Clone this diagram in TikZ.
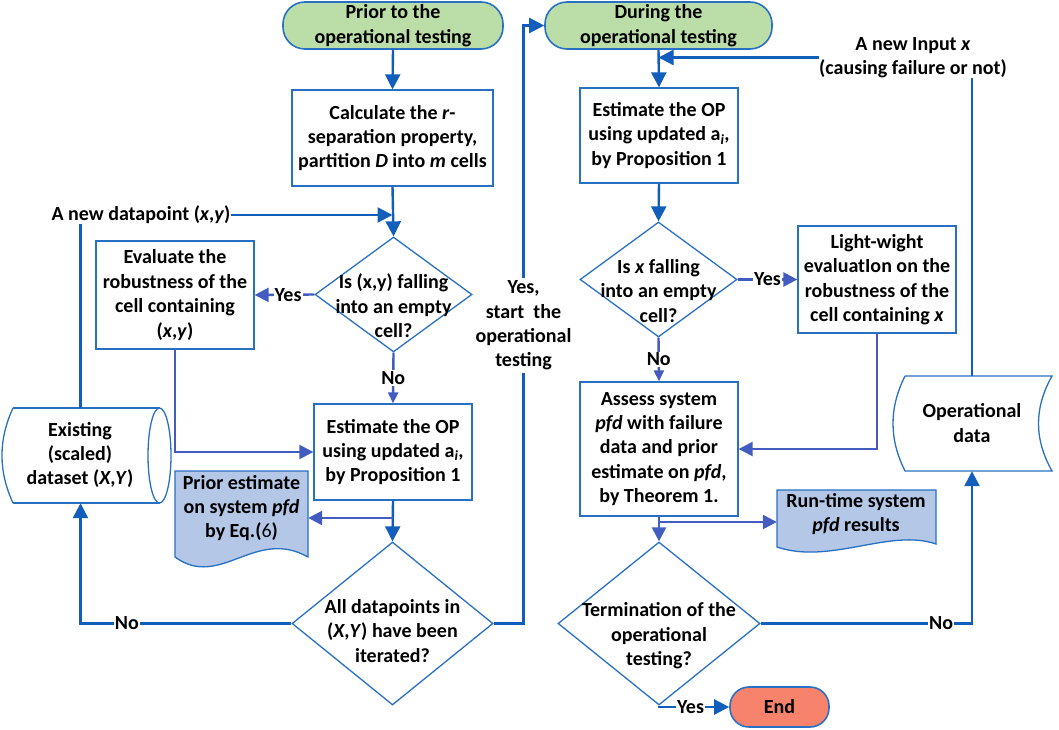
\documentclass[tikz,border=0pt]{standalone}
\usepackage{fontspec}
\setmainfont{Carlito}
\usetikzlibrary{arrows.meta,shapes.geometric}
\definecolor{cA}{RGB}{18,94,189}
\definecolor{cB}{RGB}{66,92,192}
\definecolor{cS}{RGB}{40,112,196}
\definecolor{cGreen}{RGB}{187,221,167}
\definecolor{cDoc}{RGB}{180,199,231}
\definecolor{cEnd}{RGB}{248,131,108}
\begin{document}
\begin{tikzpicture}[x=1pt,y=-1pt,
  txt/.style={font=\fontsize{20}{24.4}\selectfont\bfseries, align=center, inner sep=0pt, text=black},
  pbox/.style={txt, draw=cS, line width=1.3pt, fill=white},
  term/.style={txt, draw=cS, line width=1.6pt},
  dia/.style={diamond, draw=cS, line width=1.3pt, inner sep=0pt},
  shp/.style={draw=cS, line width=1.3pt},
  flowA/.style={draw=cA, line width=2.4pt, -{Triangle[length=15pt,width=15pt]}},
  flowB/.style={draw=cB, line width=2.4pt, -{Triangle[length=14pt,width=14pt]}},
  flowS/.style={draw=cB, line width=2.4pt, -{Triangle[length=11pt,width=10pt]}},
  lineA/.style={draw=cA, line width=2.4pt},
  lbl/.style={txt, fill=white, inner sep=1pt},
]
\useasboundingbox (0,0) rectangle (1059,730);

% ---------- left column ----------
\node[term, fill=cGreen, rounded corners=22pt, minimum width=220pt, minimum height=47pt] (s1) at (393,25.5) {Prior to the\\operational testing};
\node[pbox, minimum width=201pt, minimum height=96pt] (b1) at (392.5,138) {Calculate the \textit{r}-\\separation property,\\partition \textit{D} into \textit{m} cells};
\node[txt] (newdp) at (141,215) {A new datapoint (\textit{x},\textit{y})};
\node[dia, minimum width=157pt, minimum height=115pt] (d1) at (393.5,294.5) {};
\node[txt] (d1t) at (393.5,306) {Is (x,y) falling\\into an empty\\cell?};
\node[pbox, minimum width=158pt, minimum height=108pt] (b2) at (175,295) {Evaluate the\\robustness of the\\cell containing\\(\textit{x},\textit{y})};
\node[pbox, minimum width=158pt, minimum height=96pt] (b3) at (393,452) {Estimate the OP\\using updated a\textsubscript{\textit{i}},\\by Proposition 1};
\node[dia, minimum width=201pt, minimum height=163pt] (d2) at (392.5,623.5) {};
\node[txt] (d2t) at (392.5,631) {All datapoints in\\(\textit{X},\textit{Y}) have been\\iterated?};

% document: prior estimate
\node[minimum width=133pt, minimum height=86pt, inner sep=0pt] (pd) at (241.5,514) {};
\fill[cDoc] (175,471) -- (308,471) -- (308,557) .. controls (255,527) and (220,590) .. (175,557) -- cycle;
\draw[shp] (175,471) -- (308,471) -- (308,557) .. controls (255,527) and (220,590) .. (175,557) -- cycle;
\node[txt] (pdt) at (241.5,508) {Prior estimate\\on system \textit{pfd}\\by Eq.({\mdseries 6})};

% stored data: existing dataset
\node[minimum width=135pt, minimum height=95pt, inner sep=0pt] (ds) at (80.5,455.5) {};
\draw[shp] (13,408) -- (159.5,408);
\draw[shp] (13,503) -- (159.5,503);
\draw[shp] (13,408) .. controls (-1.7,440) and (-1.7,471) .. (13,503);
\draw[shp] (159.5,455.5) ellipse (11.5 and 47.5);
\node[txt] (dst) at (80,455) {Existing\\(scaled)\\dataset (\textit{X},\textit{Y})};

% ---------- right column ----------
\node[term, fill=cGreen, rounded corners=22pt, minimum width=227pt, minimum height=47pt] (s2) at (658.5,25.5) {During the\\operational testing};
\node[txt] (newin) at (913,57.5) {A new Input \textit{x}\\(causing failure or not)};
\node[pbox, minimum width=158pt, minimum height=95pt] (b4) at (659,135.5) {Estimate the OP\\using updated a\textsubscript{\textit{i}},\\by Proposition 1};
\node[dia, minimum width=157pt, minimum height=115pt] (d3) at (658.5,279.5) {};
\node[txt] (d3t) at (658.5,291) {Is \textit{x} falling\\into an empty\\cell?};
\node[pbox, minimum width=158pt, minimum height=107pt] (b5) at (877,279.5) {Light-wight\\evaluatIon on the\\robustness of the\\cell containing \textit{x}};
\node[pbox, minimum width=158pt, minimum height=134pt] (b6) at (659,449) {Assess system\\\textit{pfd} with failure\\data and prior\\estimate on \textit{pfd},\\by Theorem 1.};
\node[dia, minimum width=202pt, minimum height=163pt] (d4) at (659,623.5) {};
\node[txt] (d4t) at (659,636) {Termination of the\\operational\\testing?};
\node[term, fill=cEnd, rounded corners=19pt, minimum width=99pt, minimum height=40pt] (end) at (779.5,707) {End};

% document: run-time results
\node[minimum width=159pt, minimum height=57pt, inner sep=0pt] (rt) at (856.5,518.5) {};
\fill[cDoc] (777,490) -- (936,490) -- (936,544) .. controls (890,528) and (830,565) .. (777,547) -- cycle;
\draw[shp] (777,490) -- (936,490) -- (936,544) .. controls (890,528) and (830,565) .. (777,547) -- cycle;
\node[txt] (rtt) at (856,514) {Run-time system\\\textit{pfd} results};

% stored data: operational data
\node[minimum width=134pt, minimum height=95pt, inner sep=0pt] (opd) at (972,423.5) {};
\draw[shp] (905,376) -- (1052,376) .. controls (1034,408) and (1034,439) .. (1052,471) -- (905,471) .. controls (889,439) and (889,408) .. (905,376);
\node[txt] (opdt) at (972,423) {Operational\\data};

% ---------- connectors: left ----------
\draw[flowA] (s1.south) -- (b1.north);
\draw[flowA] (b1.south) -- (d1.north);
\draw[flowA] (newdp.east) -- (newdp.east -| b1.south);
\draw[flowB] (d1.west) -- node[lbl, pos=0.44] {Yes} (b2.east);
\draw[flowB] (b2.south) |- (b3.west);
\draw[flowS] (d1.south) -- node[lbl, pos=0.5] {No} (b3.north);
\draw[flowA] (b3.south) -- (d2.north);
\coordinate (br1) at (393,518);
\draw[flowB] (br1) -- (br1 -| pd.east);
\draw[flowA] (d2.west) -- node[lbl, pos=0.78] {No} (d2.west -| ds.south) -- (ds.south);
\draw[lineA] (ds.north) -- (ds.north |- newdp.south);
\coordinate (yx) at (523.5,325.5);
\draw[flowA] (d2.east) -| (yx) |- (s2.west);
\node[lbl, inner sep=3pt] (yxt) at (yx) {Yes,\\start~ the\\operational\\testing};

% ---------- connectors: right ----------
\draw[flowA] (s2.south) -- (b4.north);
\draw[flowA] (newin.west) -- (newin.west -| s2.south);
\draw[lineA] (opd.north) -- (opd.north |- newin.south);
\draw[flowA] (b4.south) -- (d3.north);
\draw[flowB] (d3.east) -- node[lbl, pos=0.5] {Yes} (b5.west);
\draw[flowS] (d3.south) -- node[lbl, pos=0.5] {No} (b6.north);
\draw[flowB] (b5.south) |- (b6.east);
\draw[flowB] (b6.south) -- (d4.north);
\coordinate (br2) at (659,522);
\draw[flowB] (br2) -- (br2 -| rt.west);
\draw[flowA] (d4.east) -- node[lbl, pos=0.854] {No} (d4.east -| opd.south) -- (opd.south);
\draw[flowA] (d4.south) -- (d4.south |- end.west) -- node[lbl, pos=0.45] {Yes} (end.west);
\end{tikzpicture}
\end{document}
